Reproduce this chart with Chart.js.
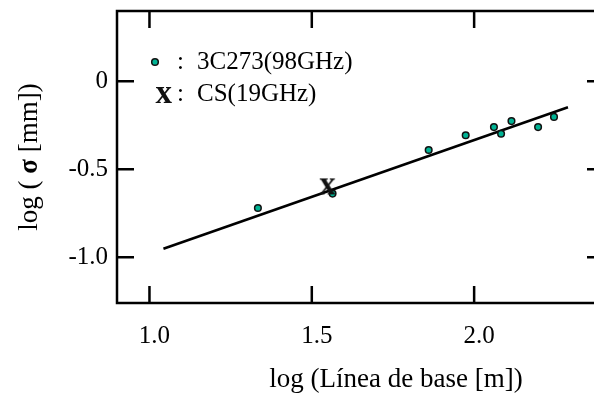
<!DOCTYPE html>
<html>
<head>
<meta charset="utf-8">
<script src="https://cdn.jsdelivr.net/npm/chart.js@4.4.1/dist/chart.umd.min.js"></script>
<style>
  html, body { margin: 0; padding: 0; background: #fff; overflow: hidden; width: 594px; height: 402px; }
  canvas { display: block; }
</style>
</head>
<body>
<canvas id="c" width="620" height="402" style="width:620px;height:402px"></canvas>
<script>
// ---- data ----
const baselineLog = [1.334, 1.564, 1.860, 1.974, 2.061, 2.083, 2.115, 2.197, 2.246];
const sigmaLog    = [-0.720, -0.638, -0.390, -0.306, -0.260, -0.298, -0.226, -0.260, -0.202];
const csBaseline  = [1.549];
const csSigma     = [-0.597];
const fitX        = [1.043, 2.289];
const fitY        = [-0.952, -0.147];
const xTickValues = [1.0, 1.5, 2.0];
const xTickLabels = ['1.0', '1.5', '2.0'];
const yTickValues = [0, -0.5, -1.0];
const yTickLabels = ['0', '-0.5', '-1.0'];
const seriesNames = ['3C273(98GHz)', 'CS(19GHz)'];
const xTitle = 'log (Línea de base [m])';
const yTitleParts = ['log ( ', 'σ', ' [mm])'];

const SERIF = '"Liberation Serif", "Times New Roman", serif';
const TEAL = '#00b394';

function makeGlyph() {
  const c = document.createElement('canvas');
  c.width = 30; c.height = 30;
  const g = c.getContext('2d');
  g.font = 'bold 33px ' + SERIF;
  g.fillStyle = '#111';
  g.textAlign = 'left';
  g.textBaseline = 'alphabetic';
  const m = g.measureText('x');
  const w = m.actualBoundingBoxLeft + m.actualBoundingBoxRight;
  const h = m.actualBoundingBoxAscent + m.actualBoundingBoxDescent;
  g.fillText('x', (30 - w) / 2 + m.actualBoundingBoxLeft, (30 - h) / 2 + m.actualBoundingBoxAscent);
  return c;
}
const xGlyph = makeGlyph();

const framePlugin = {
  id: 'frame',
  afterDraw(chart) {
    const { ctx, chartArea: a, scales } = chart;
    const xs = scales.x, ys = scales.y;
    ctx.save();
    ctx.strokeStyle = '#000';
    ctx.lineWidth = 2.5;
    ctx.lineCap = 'butt';
    ctx.strokeRect(a.left, a.top, a.right - a.left, a.bottom - a.top);
    const L = 17;
    ctx.beginPath();
    xTickValues.forEach(v => {
      const px = xs.getPixelForValue(v);
      ctx.moveTo(px, a.bottom); ctx.lineTo(px, a.bottom - L);
      ctx.moveTo(px, a.top); ctx.lineTo(px, a.top + L);
    });
    yTickValues.forEach(v => {
      const py = ys.getPixelForValue(v);
      ctx.moveTo(a.left, py); ctx.lineTo(a.left + L, py);
      ctx.moveTo(a.right, py); ctx.lineTo(a.right - L, py);
    });
    ctx.stroke();

    // legend
    ctx.fillStyle = '#000';
    ctx.font = '25px ' + SERIF;
    ctx.textBaseline = 'middle';
    ctx.textAlign = 'left';
    ctx.beginPath();
    ctx.arc(155, 62, 3.3, 0, Math.PI * 2);
    ctx.fillStyle = TEAL; ctx.fill();
    ctx.lineWidth = 1.5; ctx.strokeStyle = '#111'; ctx.stroke();
    ctx.fillStyle = '#000';
    ctx.fillText(':', 177, 62);
    ctx.fillText(seriesNames[0], 197, 62);
    ctx.drawImage(xGlyph, 164 - 15, 95 - 15);
    ctx.fillText(':', 177, 94);
    ctx.fillText(seriesNames[1], 197, 94);

    // x title
    ctx.font = '27px ' + SERIF;
    ctx.textAlign = 'center';
    ctx.fillText(xTitle, 396, 380);

    // y title (rotated)
    ctx.save();
    ctx.translate(30, 157);
    ctx.rotate(-Math.PI / 2);
    const fonts = ['27px ' + SERIF, 'bold 27px ' + SERIF, '27px ' + SERIF];
    let total = 0;
    const widths = yTitleParts.map((t, i) => { ctx.font = fonts[i]; const w = ctx.measureText(t).width; total += w; return w; });
    let x0 = -total / 2;
    ctx.textAlign = 'left';
    yTitleParts.forEach((t, i) => { ctx.font = fonts[i]; ctx.fillText(t, x0, 0); x0 += widths[i]; });
    ctx.restore();
    ctx.restore();
  }
};

new Chart(document.getElementById('c'), {
  type: 'scatter',
  data: {
    datasets: [
      {
        label: seriesNames[0],
        data: baselineLog.map((x, i) => ({ x, y: sigmaLog[i] })),
        pointRadius: 3.3,
        pointBorderWidth: 1.5,
        pointBorderColor: '#111',
        pointBackgroundColor: TEAL,
        order: 1
      },
      {
        label: seriesNames[1],
        data: csBaseline.map((x, i) => ({ x, y: csSigma[i] })),
        pointStyle: xGlyph,
        pointRadius: 10,
        order: 0
      },
      {
        label: 'fit',
        data: fitX.map((x, i) => ({ x, y: fitY[i] })),
        showLine: true,
        borderColor: '#000',
        borderWidth: 2.6,
        pointRadius: 0,
        order: 3
      }
    ]
  },
  options: {
    responsive: false,
    animation: false,
    devicePixelRatio: 1,
    layout: { padding: { left: 0, top: 10, right: 16, bottom: 0 } },
    plugins: { legend: { display: false }, tooltip: { enabled: false } },
    scales: {
      x: {
        type: 'linear',
        min: 0.9, max: 2.4,
        grid: { display: false, drawTicks: false },
        border: { display: false },
        afterBuildTicks: s => { s.ticks = xTickValues.map(v => ({ value: v })); },
        afterFit: s => { s.height = 99; s.paddingLeft = 0; s.paddingRight = 0; },
        ticks: {
          color: '#000',
          font: { family: SERIF, size: 25 },
          padding: 18,
          labelOffset: 5,
          maxRotation: 0,
          callback: (v) => { const i = xTickValues.indexOf(v); return i >= 0 ? xTickLabels[i] : ''; }
        }
      },
      y: {
        type: 'linear',
        min: -1.26, max: 0.4,
        grid: { display: false, drawTicks: false },
        border: { display: false },
        afterBuildTicks: s => { s.ticks = yTickValues.map(v => ({ value: v })); },
        afterFit: s => { s.width = 117; s.paddingTop = 0; s.paddingBottom = 0; },
        ticks: {
          color: '#000',
          font: { family: SERIF, size: 25 },
          padding: 9,
          callback: (v) => { const i = yTickValues.indexOf(v); return i >= 0 ? yTickLabels[i] : ''; }
        }
      }
    }
  },
  plugins: [framePlugin]
});
</script>
</body>
</html>
